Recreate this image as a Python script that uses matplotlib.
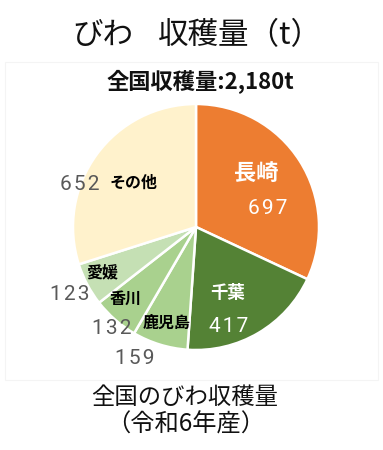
import matplotlib
matplotlib.use("Agg")
import matplotlib.pyplot as plt
import numpy as np

plt.rcParams['font.family'] = ['Noto Sans CJK JP', 'DejaVu Sans']

# ---- data ----
regions = ['長崎', '千葉', '鹿児島', '香川', '愛媛', 'その他']
values = [697, 417, 159, 132, 123, 652]
total_label = '全国収穫量:2,180t'
title_a = 'びわ'
title_b = '収穫量（t）'
footer1 = '全国のびわ収穫量'
footer2 = '（令和6年産）'

colors = ['#ED7D31', '#548235', '#A9D18E', '#A9D18E', '#C5E0B4', '#FFF2CC']

W, H = 383, 450
fig = plt.figure(figsize=(W / 100, H / 100), dpi=100)
ax = fig.add_axes([0, 0, 1, 1])

def Y(py):
    return H - py

# faint frame
ax.add_patch(plt.Rectangle((5, Y(380)), 373, 318, fill=False, edgecolor='#F4F4F4', lw=0.8))

cx, cy, r = 196, 227, 123
wedges, _ = ax.pie(values, colors=colors, startangle=90, counterclock=False,
                   center=(cx, Y(cy)), radius=r,
                   wedgeprops=dict(edgecolor='white', linewidth=1.8))
ax.set_xlim(0, W)
ax.set_ylim(0, H)
ax.set_aspect('equal')
ax.axis('off')

# title texts
ax.text(72, Y(36), title_a, ha='left', va='center', fontsize=22, color='#111111')
ax.text(158, Y(36), title_b, ha='left', va='center', fontsize=22, color='#111111')
ax.text(200, Y(82), total_label, ha='center', va='center', fontsize=16,
        fontweight='bold', color='#111111')
ax.text(185, Y(397), footer1, ha='center', va='center', fontsize=16.8, color='#111111')
ax.text(186, Y(425), footer2, ha='center', va='center', fontsize=17.5, color='#111111')

# label layout: (name_xy, name_size, name_color, value_xy, value_color)
layout = [
    ((256, 173), 16, 'white', (268, 208), 'white'),
    ((228, 293), 12.5, 'white', (229, 326), 'white'),
    ((167, 323), 11.5, 'black', (135, 358), '#595959'),
    ((126, 299), 11.5, 'black', (112, 329), '#595959'),
    ((102, 273), 11.5, 'black', (70, 294), '#595959'),
    ((134, 183), 11.5, 'black', (80, 184), '#595959'),
]
for name, val, (nxy, ns, nc, vxy, vc) in zip(regions, values, layout):
    ax.text(nxy[0], Y(nxy[1]), name, ha='center', va='center', fontsize=ns,
            fontweight='bold', color=nc)
    ax.text(vxy[0], Y(vxy[1]), ' '.join(str(val)).replace(' ', '\u200a'),
            ha='center', va='center', fontsize=15,
            color=vc, family=['Roboto', 'DejaVu Sans'])

fig.savefig('out.png', dpi=100)
